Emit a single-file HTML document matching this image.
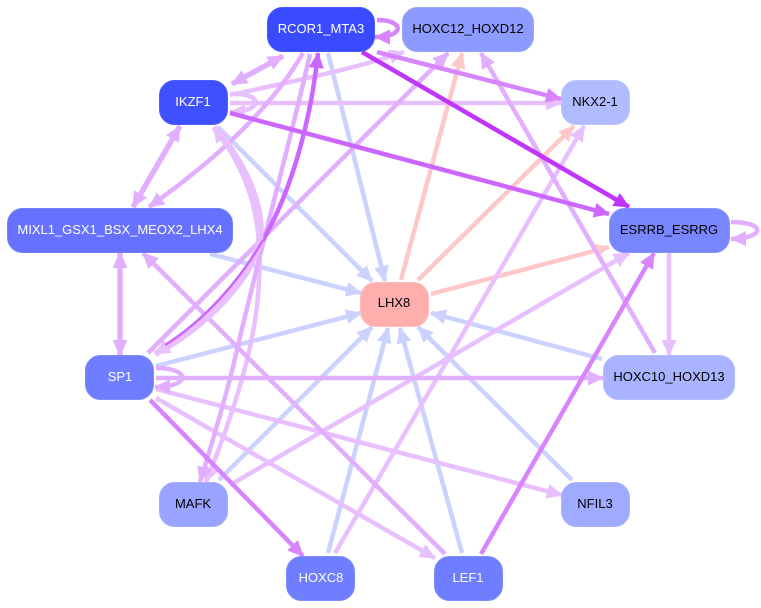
<!DOCTYPE html>
<html><head><meta charset="utf-8"><style>
html,body{margin:0;padding:0;background:#fff}
svg{display:block}
text{font-family:"Liberation Sans",sans-serif;font-size:13px;text-anchor:middle}
path{fill:none}
.a{stroke:#ccd2ff;stroke-width:4.5;marker-end:url(#ma)}
.p{stroke:#ffc8c8;stroke-width:4.5;marker-end:url(#mp)}
.l{stroke:#e8c0ff;stroke-width:4.5;marker-end:url(#ml)}
.m{stroke:#e2aeff;stroke-width:4.5;marker-end:url(#mm)}
.d{stroke:#d884ff;stroke-width:4.5;marker-end:url(#md)}
.c{stroke:#cc66ff;stroke-width:4.5;marker-end:url(#mc)}
.v{stroke:#c036ff;stroke-width:4.5;marker-end:url(#mv)}
rect{stroke-width:1;rx:15px;ry:15px}
</style></head><body>
<svg width="761" height="608" viewBox="0 0 761 608" xmlns="http://www.w3.org/2000/svg">
<defs>
<marker id="ma" markerUnits="userSpaceOnUse" markerWidth="18" markerHeight="18" refX="15" refY="8" orient="auto-start-reverse"><polygon points="0,0.5 16,8 0,15.5" fill="#ccd2ff"/></marker>
<marker id="mp" markerUnits="userSpaceOnUse" markerWidth="18" markerHeight="18" refX="15" refY="8" orient="auto-start-reverse"><polygon points="0,0.5 16,8 0,15.5" fill="#ffc8c8"/></marker>
<marker id="ml" markerUnits="userSpaceOnUse" markerWidth="18" markerHeight="18" refX="15" refY="8" orient="auto-start-reverse"><polygon points="0,0.5 16,8 0,15.5" fill="#e8c0ff"/></marker>
<marker id="mm" markerUnits="userSpaceOnUse" markerWidth="18" markerHeight="18" refX="15" refY="8" orient="auto-start-reverse"><polygon points="0,0.5 16,8 0,15.5" fill="#e2aeff"/></marker>
<marker id="md" markerUnits="userSpaceOnUse" markerWidth="18" markerHeight="18" refX="15" refY="8" orient="auto-start-reverse"><polygon points="0,0.5 16,8 0,15.5" fill="#d884ff"/></marker>
<marker id="mc" markerUnits="userSpaceOnUse" markerWidth="18" markerHeight="18" refX="15" refY="8" orient="auto-start-reverse"><polygon points="0,0.5 16,8 0,15.5" fill="#cc66ff"/></marker>
<marker id="mv" markerUnits="userSpaceOnUse" markerWidth="18" markerHeight="18" refX="15" refY="8" orient="auto-start-reverse"><polygon points="0,0.5 16,8 0,15.5" fill="#c036ff"/></marker>
</defs>

<!-- to LHX8 -->
<path class="a" d="M328,53 L385,281"/>
<path class="a" d="M218,127 L372,281"/>
<path class="a" d="M210,254 L361,293"/>
<path class="a" d="M156,366 L361,313"/>
<path class="a" d="M219,480 L372,327"/>
<path class="a" d="M328,553 L388,328"/>
<path class="a" d="M462,553 L400,328"/>
<path class="a" d="M572,480 L418,327"/>
<path class="a" d="M602,359 L431,313"/>

<!-- from LHX8 -->
<path class="p" d="M401,280 L462,53"/>
<path class="p" d="M418,280 L574,126"/>
<path class="p" d="M431,294 L609,247"/>

<!-- light purple -->
<path class="l" d="M230,95 C290,82 350,70 404,52"/>
<path class="l" d="M230,103 L561,103"/>
<path class="l" d="M230,94 C264,92 264,112 230,112"/>
<path class="l" d="M335,553 L584,126"/>
<path class="l" d="M230,485 L629,253"/>
<path class="l" d="M156,389 L562,495"/>
<path class="l" d="M156,398 L435,558"/>
<path class="l" d="M669,253 L669,355"/>
<path class="l" d="M214,127 C255,180 262,230 259,280 C257,340 235,410 206,482"/>

<!-- medium purple -->
<path class="m" d="M303,53 C270,110 215,160 149,207"/>
<path class="m" d="M148,353 L448,53"/>
<path class="m" d="M655,353 L481,53"/>
<path class="m" d="M445,554 L143,253"/>
<path class="m" style="stroke-width:5.5;marker-start:url(#mm)" d="M283,56 L232,84"/>
<path class="m" style="stroke-width:5.5;marker-start:url(#mm)" d="M120,253 L120,355"/>
<path class="m" style="stroke-width:5.5;marker-start:url(#mm)" d="M180,126 L133,207"/>
<path class="m" d="M156,378 L603,378"/>
<path class="m" d="M310,54 C292,135 255,270 233,367 C222,410 210,450 200,482"/>
<path class="m" d="M156,368 C191,368 191,387 155,387"/>
<path class="m" d="M731,222 C766,222 766,238 731,239"/>

<!-- stronger purple -->
<path class="d" d="M377,20 C405,20 405,37 375,37"/>
<path class="d" d="M150,400 L303,556"/>
<path class="d" d="M481,554 L654,253"/>
<path class="d" d="M377,52 L561,99"/>
<path class="c" d="M230,113 L609,214"/>
<path class="c" d="M263,240 C295,185 312,110 318,53"/>
<path class="v" d="M362,52 L629,207"/>

<!-- thick light arc, thin dark core -->
<path style="stroke:#e8c0ff;stroke-width:7" d="M216,130 C250,170 262,210 260,235 C258,270 215,318 165,348"/>
<path class="l" style="stroke-width:6;marker-start:url(#ml);marker-end:none" d="M214,127 L216,130"/>
<path class="l" style="stroke-width:6" d="M170,345 L155,354"/>
<path style="stroke:#cc66ff;stroke-width:2.5" d="M263,240 C240,280 205,320 165,345"/>

<!-- nodes -->
<rect x="267.5" y="7.5" width="107" height="44" fill="#3a4bff" stroke="#4a59ff"/>
<text x="321" y="33" fill="#fff">RCOR1_MTA3</text>
<rect x="402.5" y="7.5" width="131" height="44" fill="#8d9bff" stroke="#98a4ff"/>
<text x="468" y="33" fill="#000">HOXC12_HOXD12</text>
<rect x="159.5" y="80.5" width="68" height="44" fill="#3f50ff" stroke="#4e5dff"/>
<text x="193" y="106" fill="#fff">IKZF1</text>
<rect x="561.5" y="80.5" width="68" height="44" fill="#b0bcff" stroke="#bac4ff"/>
<text x="595" y="106" fill="#000">NKX2-1</text>
<rect x="7.5" y="208.5" width="225" height="44" fill="#6672ff" stroke="#7680ff"/>
<text x="120" y="234" fill="#fff">MIXL1_GSX1_BSX_MEOX2_LHX4</text>
<rect x="609.5" y="208.5" width="120" height="44" fill="#7887ff" stroke="#8694ff"/>
<text x="669" y="234" fill="#000">ESRRB_ESRRG</text>
<rect x="360.5" y="282.5" width="68" height="44" fill="#ffaeae" stroke="#ffbcbc"/>
<text x="394" y="307" fill="#000">LHX8</text>
<rect x="85.5" y="355.5" width="68" height="44" fill="#6f7dff" stroke="#7e8bff"/>
<text x="120" y="381" fill="#fff">SP1</text>
<rect x="603.5" y="355.5" width="131" height="44" fill="#a9b3ff" stroke="#b4bdff"/>
<text x="669" y="381" fill="#000">HOXC10_HOXD13</text>
<rect x="159.5" y="482.5" width="68" height="44" fill="#98a4ff" stroke="#a4afff"/>
<text x="193" y="508" fill="#000">MAFK</text>
<rect x="561.5" y="482.5" width="68" height="44" fill="#9fabff" stroke="#abb5ff"/>
<text x="595" y="508" fill="#000">NFIL3</text>
<rect x="286.5" y="556.5" width="68" height="44" fill="#6f7dff" stroke="#7e8bff"/>
<text x="321" y="582" fill="#fff">HOXC8</text>
<rect x="434.5" y="556.5" width="68" height="44" fill="#6f7dff" stroke="#7e8bff"/>
<text x="468" y="582" fill="#fff">LEF1</text>
</svg>
</body></html>
